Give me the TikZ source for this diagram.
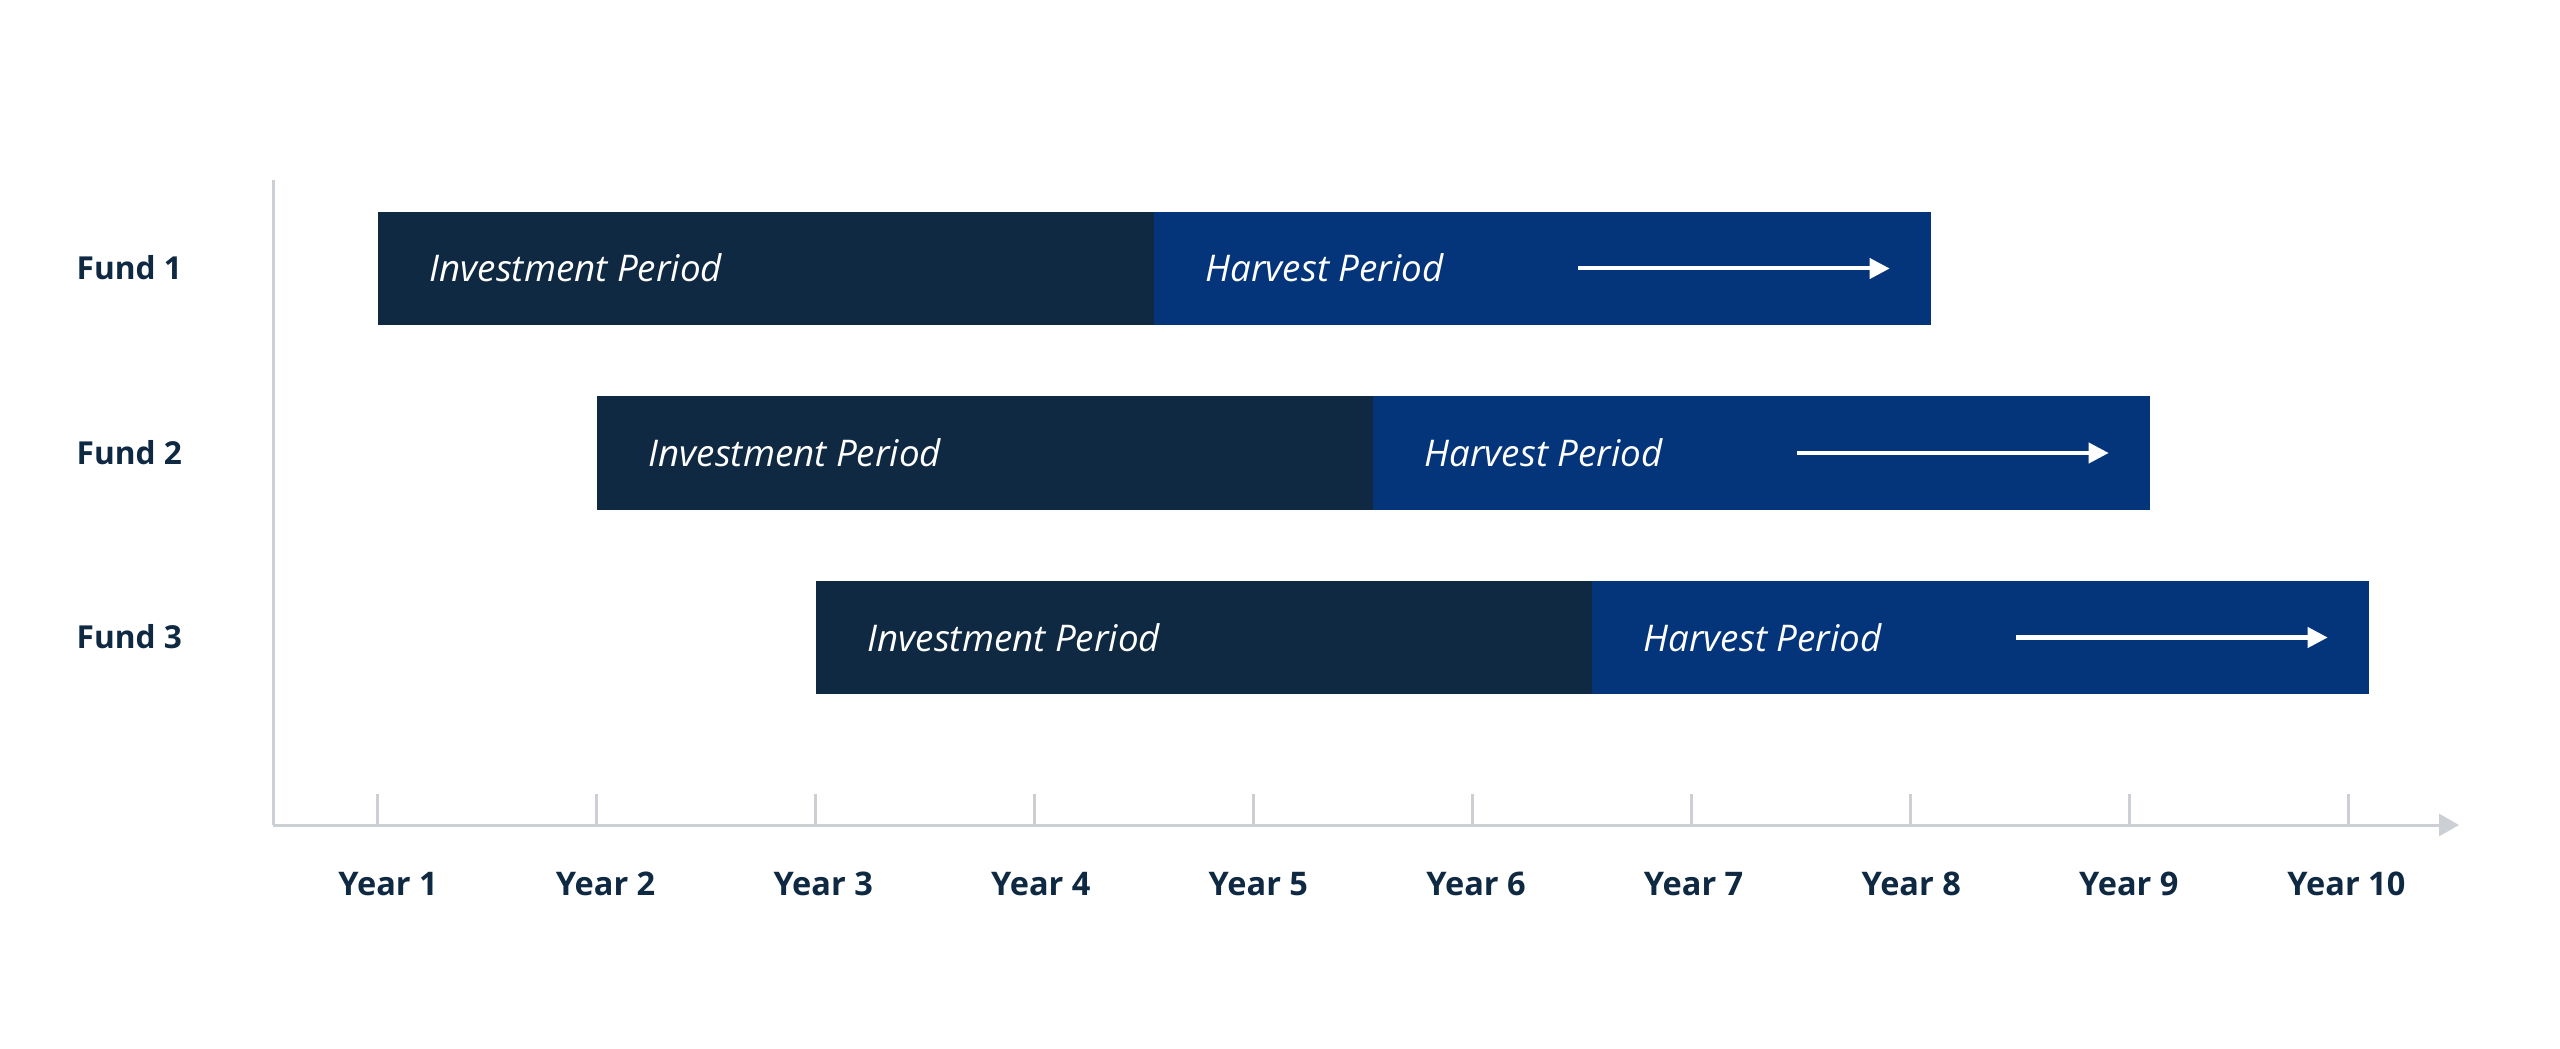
\documentclass[tikz,border=0pt]{standalone}
\usepackage{fontspec}
\setmainfont{Open Sans}
\usepackage{tikz}
\usetikzlibrary{arrows.meta}
\usetikzlibrary{positioning}
\definecolor{fundnavy}{HTML}{0F2942}
\definecolor{fundblue}{HTML}{04357B}
\definecolor{axisgrey}{HTML}{CCCFD4}
\tikzset{
  invbar/.style={rectangle,fill=fundnavy,draw=none,minimum width=7.76cm,minimum height=1.13cm,inner sep=0pt,anchor=west},
  harvbar/.style={rectangle,fill=fundblue,draw=none,minimum width=7.77cm,minimum height=1.13cm,inner sep=0pt},
  bartext/.style={text=white,inner sep=0pt,anchor=base west,font=\fontsize{10.45}{12}\selectfont\itshape},
  fundlabel/.style={text=fundnavy,inner sep=0pt,anchor=base west,font=\fontsize{9}{11}\selectfont\bfseries},
  yearlabel/.style={text=fundnavy,inner sep=0pt,anchor=base,font=\fontsize{9.25}{11}\selectfont\bfseries},
  axisline/.style={draw=axisgrey,line width=0.03cm},
  harvarrow/.style={draw=white,line width=0.04cm,-{Triangle[length=0.2cm,width=0.2cm]}}
}
\begin{document}
\begin{tikzpicture}[x=0.01cm,y=-0.01cm]
			\useasboundingbox[fill=white](0,0)rectangle(2560,1049);
			% axes
			\coordinate(ytop)at(273,180);
			\coordinate(origin)at(273,825);
			\coordinate(xend)at(2459,825);
			\draw[axisline](ytop)--(origin);
			\draw[axisline,-{Triangle[length=0.2cm,width=0.22cm]}](origin)--(xend);
			\draw[axisline](377,794)--(377,825);
			\draw[axisline](596,794)--(596,825);
			\draw[axisline](815,794)--(815,825);
			\draw[axisline](1034,794)--(1034,825);
			\draw[axisline](1253,794)--(1253,825);
			\draw[axisline](1472,794)--(1472,825);
			\draw[axisline](1691,794)--(1691,825);
			\draw[axisline](1910,794)--(1910,825);
			\draw[axisline](2129,794)--(2129,825);
			\draw[axisline](2348,794)--(2348,825);
			\node[yearlabel](y1)at(388,895){Year 1};
			\node[yearlabel](y2)at(605.6,895){Year 2};
			\node[yearlabel](y3)at(823.2,895){Year 3};
			\node[yearlabel](y4)at(1040.8,895){Year 4};
			\node[yearlabel](y5)at(1258.4,895){Year 5};
			\node[yearlabel](y6)at(1476,895){Year 6};
			\node[yearlabel](y7)at(1693.6,895){Year 7};
			\node[yearlabel](y8)at(1911.2,895){Year 8};
			\node[yearlabel](y9)at(2128.8,895){Year 9};
			\node[yearlabel](y10)at(2346.4,895){Year 10};
			% funds
			\node[fundlabel](f1)at(76,280){Fund 1};
			\node[fundlabel](f2)at(76,464.5){Fund 2};
			\node[fundlabel](f3)at(76,649){Fund 3};
			\node[invbar](inv1)at(377,268.5){};
			\node[harvbar,right=-0.02cm of inv1](hv1){};
			\node[invbar](inv2)at(596,453){};
			\node[harvbar,right=-0.02cm of inv2](hv2){};
			\node[invbar](inv3)at(815,637.5){};
			\node[harvbar,right=-0.02cm of inv3](hv3){};
			\node[bartext](it1)at(429,282){Investment Period};
			\node[bartext](ht1)at(1205,282){Harvest Period};
			\node[bartext](it2)at(648,466.5){Investment Period};
			\node[bartext](ht2)at(1424,466.5){Harvest Period};
			\node[bartext](it3)at(867,651){Investment Period};
			\node[bartext](ht3)at(1643,651){Harvest Period};
			% arrows
			\coordinate(a1s)at([xshift=4.25cm]hv1.west);
			\coordinate(a1e)at([xshift=-0.42cm]hv1.east);
			\coordinate(a2s)at([xshift=4.25cm]hv2.west);
			\coordinate(a2e)at([xshift=-0.42cm]hv2.east);
			\coordinate(a3s)at([xshift=4.25cm]hv3.west);
			\coordinate(a3e)at([xshift=-0.42cm]hv3.east);
			\draw[harvarrow](a1s)--(a1e);
			\draw[harvarrow](a2s)--(a2e);
			\draw[harvarrow](a3s)--(a3e);
		\end{tikzpicture}
\end{document}
